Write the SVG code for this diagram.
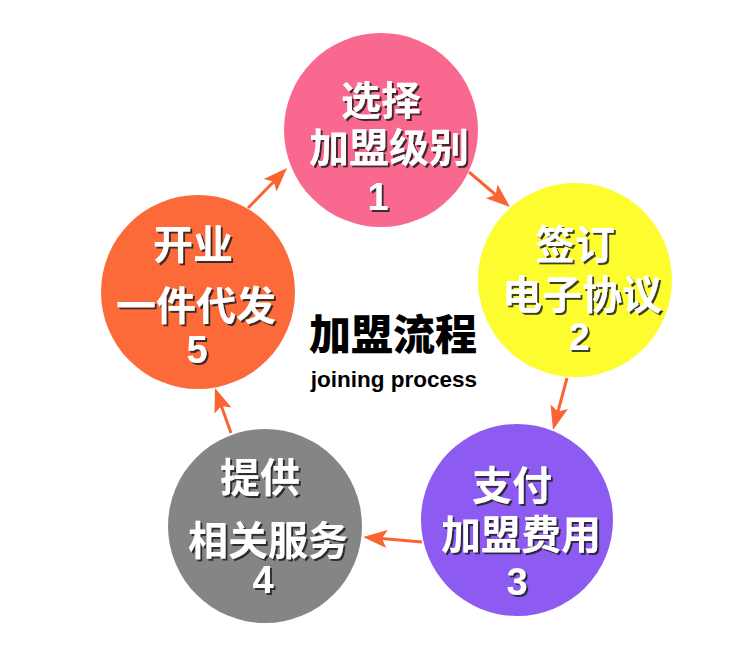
<svg xmlns="http://www.w3.org/2000/svg" width="750" height="661" viewBox="0 0 750 661">
<defs>
<filter id="sh" x="-10%" y="-10%" width="130%" height="130%">
<feDropShadow dx="2" dy="2" stdDeviation="0.6" flood-color="#222" flood-opacity="0.85"/>
</filter>
<marker id="ah" viewBox="-25 -10 26 20" refX="-10" refY="0" markerWidth="26" markerHeight="20" markerUnits="userSpaceOnUse" orient="auto">
<path d="M0,0 L-24,-9 L-19,0 L-24,9 Z" fill="#FA6432"/>
</marker>
<style>
.lbl{font-family:"Noto Sans CJK SC","Liberation Sans",sans-serif;font-weight:700;font-size:40px;fill:#fff;text-anchor:middle;filter:url(#sh)}
.num{font-family:"Liberation Sans",Arial,sans-serif;font-weight:700;font-size:38px;fill:#fff;text-anchor:middle;filter:url(#sh)}
.conn{stroke:#FA6432;stroke-width:3;fill:none;marker-end:url(#ah)}
</style>
</defs>
<rect width="750" height="661" fill="#fff"/>
<g id="connectors">
<line class="conn" x1="469" y1="172" x2="502.4" y2="200.5"/>
<line class="conn" x1="567" y1="378" x2="555.6" y2="420.3"/>
<line class="conn" x1="422" y1="542" x2="373" y2="537.8"/>
<line class="conn" x1="231" y1="433" x2="218.3" y2="397.4"/>
<line class="conn" x1="248" y1="208" x2="280" y2="175.2"/>
</g>
<g id="node1">
<circle cx="381" cy="130" r="97" fill="#F9698F"/>
<text class="lbl" x="381" y="115">选择</text>
<text class="lbl" x="389" y="162">加盟级别</text>
<text class="num" x="378" y="210">1</text>
</g>
<g id="node2">
<circle cx="575" cy="280" r="97" fill="#FCFC2E"/>
<text class="lbl" x="575" y="259">签订</text>
<text class="lbl" x="582" y="309">电子协议</text>
<text class="num" x="579" y="350">2</text>
</g>
<g id="node3">
<circle cx="517" cy="520" r="96" fill="#8D5BF2"/>
<text class="lbl" x="512" y="500">支付</text>
<text class="lbl" x="521" y="549">加盟费用</text>
<text class="num" x="517" y="595">3</text>
</g>
<g id="node4">
<circle cx="265" cy="526" r="97" fill="#858585"/>
<text class="lbl" x="260" y="492">提供</text>
<text class="lbl" x="268" y="555">相关服务</text>
<text class="num" x="263" y="593">4</text>
</g>
<g id="node5">
<circle cx="198" cy="292" r="97" fill="#FC6A39"/>
<text class="lbl" x="193" y="259">开业</text>
<text class="lbl" x="196" y="320">一件代发</text>
<text class="num" x="197" y="363">5</text>
</g>
<g id="title">
<text x="393" y="350" font-family="'Noto Sans CJK SC',sans-serif" font-weight="900" font-size="42" fill="#000" text-anchor="middle">加盟流程</text>
<text x="394" y="387" font-family="'Liberation Sans',Arial,sans-serif" font-weight="700" font-size="22.5" fill="#000" text-anchor="middle">joining process</text>
</g>
</svg>
